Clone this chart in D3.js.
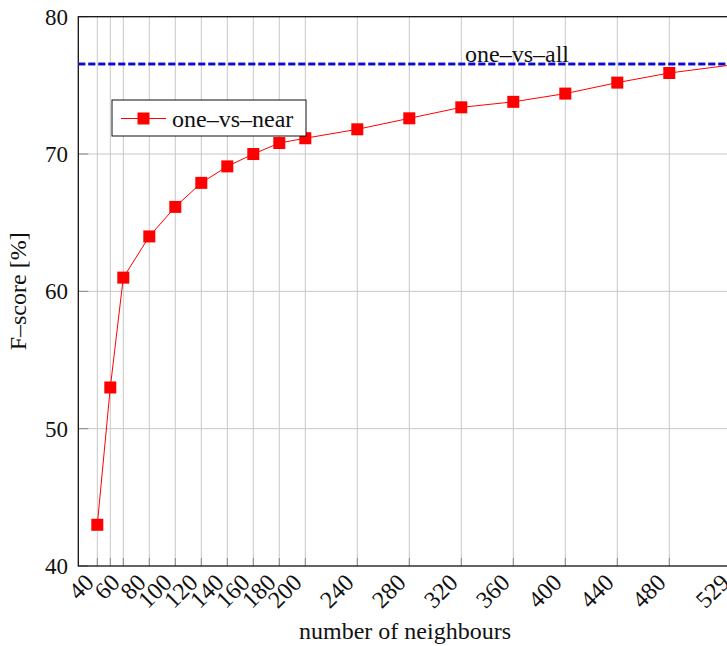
<!DOCTYPE html>
<html>
<head>
<meta charset="utf-8">
<script src="https://cdn.jsdelivr.net/npm/d3@7"></script>
<style>
  body { margin: 0; background: white; }
  text { font-family: "Liberation Serif", "DejaVu Serif", serif; fill: #111; }
</style>
</head>
<body>
<div id="chart"></div>
<script>
// data
var neighbours = [40, 50, 60, 80, 100, 120, 140, 160, 180, 200, 240, 280, 320, 360, 400, 440, 480, 529];
var fscore = [43.0, 53.0, 61.0, 64.0, 66.15, 67.9, 69.1, 70.0, 70.8, 71.15, 71.8, 72.6, 73.4, 73.8, 74.4, 75.2, 75.9, 76.5];
var xTickValues = [40, 60, 80, 100, 120, 140, 160, 180, 200, 240, 280, 320, 360, 400, 440, 480, 529];
var yTickValues = [40, 50, 60, 70, 80];
var oneVsAll = 76.55;

var width = 727, height = 646;

var svg = d3.select("#chart").append("svg")
    .attr("width", width)
    .attr("height", height);

var plotLeft = 78.3, plotTop = 16.7, plotBottom = 566;

// x range is set so that 529 lands just past the window edge, as in the picture
var x = d3.scaleLinear().domain([40, 529]).range([97.3, 733]);
var y = d3.scaleLinear().domain([40, 80]).range([plotBottom, plotTop]);
var plotRight = x(529);

// grid
svg.append("g").selectAll("line")
    .data(neighbours.slice(0, neighbours.length - 1))
    .enter().append("line")
    .attr("x1", function(d) { return x(d); })
    .attr("x2", function(d) { return x(d); })
    .attr("y1", plotTop)
    .attr("y2", plotBottom)
    .attr("stroke", "#c8c8c8")
    .attr("stroke-width", 1);

svg.append("g").selectAll("line")
    .data(yTickValues.slice(1, 4))
    .enter().append("line")
    .attr("x1", plotLeft)
    .attr("x2", plotRight)
    .attr("y1", function(d) { return y(d); })
    .attr("y2", function(d) { return y(d); })
    .attr("stroke", "#c8c8c8")
    .attr("stroke-width", 1);

// tick marks (inward)
svg.append("g").selectAll("line")
    .data(neighbours)
    .enter().append("line")
    .attr("x1", function(d) { return x(d); })
    .attr("x2", function(d) { return x(d); })
    .attr("y1", plotBottom)
    .attr("y2", plotBottom - 8)
    .attr("stroke", "#888")
    .attr("stroke-width", 1);

svg.append("g").selectAll("line")
    .data(yTickValues)
    .enter().append("line")
    .attr("x1", plotLeft)
    .attr("x2", plotLeft + 10)
    .attr("y1", function(d) { return y(d); })
    .attr("y2", function(d) { return y(d); })
    .attr("stroke", "#888")
    .attr("stroke-width", 1);

// frame
svg.append("rect")
    .attr("x", plotLeft)
    .attr("y", plotTop)
    .attr("width", plotRight - plotLeft)
    .attr("height", plotBottom - plotTop)
    .attr("fill", "none")
    .attr("stroke", "#111")
    .attr("stroke-width", 1.3);

// y tick labels
svg.append("g").selectAll("text")
    .data(yTickValues)
    .enter().append("text")
    .attr("x", 68)
    .attr("y", function(d) { return y(d); })
    .attr("dy", "0.35em")
    .attr("text-anchor", "end")
    .style("font-size", "23px")
    .text(function(d) { return d; });

// x tick labels, rotated
svg.append("g").selectAll("text")
    .data(xTickValues)
    .enter().append("text")
    .attr("transform", function(d) { return "translate(" + (x(d) - 8) + "," + (plotBottom + 12) + ") rotate(-45)"; })
    .attr("dy", "0.35em")
    .attr("text-anchor", "end")
    .style("font-size", "24px")
    .text(function(d) { return d; });

// axis titles
svg.append("text")
    .attr("x", 405)
    .attr("y", 639)
    .attr("text-anchor", "middle")
    .style("font-size", "24px")
    .text("number of neighbours");

svg.append("text")
    .attr("transform", "translate(26," + ((plotTop + plotBottom) / 2) + ") rotate(-90)")
    .attr("text-anchor", "middle")
    .style("font-size", "24px")
    .text("F–score [%]");

// one-vs-all reference line
svg.append("line")
    .attr("x1", plotLeft)
    .attr("x2", plotRight)
    .attr("y1", y(oneVsAll))
    .attr("y2", y(oneVsAll))
    .attr("stroke", "#1a1aff")
    .attr("stroke-width", 3)
    .attr("stroke-dasharray", "7,3");

svg.append("line")
    .attr("x1", plotLeft)
    .attr("x2", plotRight)
    .attr("y1", y(oneVsAll))
    .attr("y2", y(oneVsAll))
    .attr("stroke", "#00008b")
    .attr("stroke-width", 1)
    .attr("stroke-dasharray", "7,3");

svg.append("text")
    .attr("x", 465)
    .attr("y", y(oneVsAll) - 2)
    .style("font-size", "24px")
    .text("one–vs–all");

// one-vs-near series
var line = d3.line()
    .x(function(d, i) { return x(neighbours[i]); })
    .y(function(d) { return y(d); });

svg.append("path")
    .datum(fscore)
    .attr("d", line)
    .attr("fill", "none")
    .attr("stroke", "red")
    .attr("stroke-width", 1);

var ms = 12;
svg.append("g").selectAll("rect")
    .data(fscore)
    .enter().append("rect")
    .attr("x", function(d, i) { return x(neighbours[i]) - ms / 2; })
    .attr("y", function(d) { return y(d) - ms / 2; })
    .attr("width", ms)
    .attr("height", ms)
    .attr("fill", "red");

// legend
var legend = svg.append("g").attr("transform", "translate(112,100)");
legend.append("rect")
    .attr("width", 194)
    .attr("height", 36)
    .attr("fill", "white")
    .attr("stroke", "#111")
    .attr("stroke-width", 1);
legend.append("line")
    .attr("x1", 9).attr("x2", 54)
    .attr("y1", 18.5).attr("y2", 18.5)
    .attr("stroke", "red");
legend.append("rect")
    .attr("x", 31.5 - ms / 2)
    .attr("y", 18.5 - ms / 2)
    .attr("width", ms)
    .attr("height", ms)
    .attr("fill", "red");
legend.append("text")
    .attr("x", 60)
    .attr("y", 18.5)
    .attr("dy", "0.35em")
    .style("font-size", "24px")
    .text("one–vs–near");
</script>
</body>
</html>
